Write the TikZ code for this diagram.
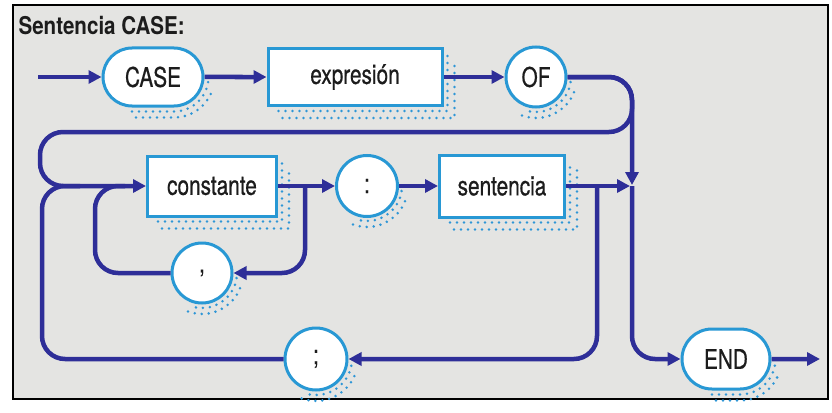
\documentclass[tikz,border=0pt]{standalone}
\usepackage{fontspec}
\newfontfamily\condfont{TeX Gyre Heros}[FakeStretch=0.77,FakeBold=0.6]
\newfontfamily\titlefont{TeX Gyre Heros}[FakeStretch=0.84]
\usetikzlibrary{arrows.meta,shapes.misc,calc}
\definecolor{bg}{RGB}{228,228,226}
\definecolor{connc}{RGB}{46,46,152}
\definecolor{nodeb}{RGB}{40,152,212}
\definecolor{dotc}{RGB}{46,150,214}
\definecolor{ink}{RGB}{28,28,28}
\newcommand\rshadow[1]{%
 \draw[dots] ($(#1.south west)+(12,-4)$) -- ($(#1.south east)+(4,-4)$) -- ($(#1.north east)+(4,-8)$);
 \draw[dots] ($(#1.south west)+(16,-11)$) -- ($(#1.south east)+(11,-11)$) -- ($(#1.north east)+(11,-12)$);}
\newcommand\cshadow[3]{%
 \draw[dots] ($(#1.center)+(-100:#2)$) arc[start angle=-100,end angle=0,radius=#2];
 \draw[dots] ($(#1.center)+(-110:#3)$) arc[start angle=-110,end angle=-15,radius=#3];}
\begin{document}
\begin{tikzpicture}[x=1pt,y=1pt,
 conn/.style={draw=connc, line width=4.5pt, rounded corners=23pt},
 arr/.style={-{Triangle[length=13pt,width=13pt]}},
 boxnode/.style={draw=nodeb, line width=3pt, fill=white, rectangle, inner sep=0pt,
   font=\condfont\fontsize{27}{31}\selectfont, text=ink},
 circnode/.style={boxnode, circle, minimum size=60pt},
 pillnode/.style={boxnode, rounded rectangle, minimum height=58pt},
 dots/.style={draw=dotc, line width=2.8pt, line cap=round, dash pattern=on 0pt off 7pt}]
\useasboundingbox (0,0) rectangle (832,-412);
\fill[white] (0,0) rectangle (832,-412);
\draw[line width=2pt, fill=bg] (13,-5) rectangle (828,-399);
\node[anchor=base west, font=\titlefont\bfseries\fontsize{24.5}{28}\selectfont, text=ink] (title) at (15,-35) {Sentencia CASE:};
% nodes
\node[pillnode, minimum width=100pt] (case) at (153,-77) {CASE};
\node[boxnode, minimum width=174pt, minimum height=57pt] (expr) at (355,-77) {expresión};
\node[circnode] (of) at (536,-77) {OF};
\node[boxnode, minimum width=129pt, minimum height=60pt] (const) at (212,-186) {constante};
\node[circnode, minimum size=61pt] (colon) at (367,-186) {:};
\node[boxnode, minimum width=125pt, minimum height=62pt] (sent) at (502,-186) {sentencia};
\node[circnode] (comma) at (202,-273) {,};
\node[circnode, minimum size=62pt] (semi) at (316,-359) {;};
\node[pillnode, minimum width=88pt, minimum height=60pt] (endn) at (726,-359) {END};
% shadows
\rshadow{expr}
\rshadow{const}
\rshadow{sent}
\cshadow{of}{35}{41}
\cshadow{colon}{35}{41}
\cshadow{comma}{35}{41}
\cshadow{semi}{36}{42}
\draw[dots] ($(case.south)+(-21,-4)$) -- ($(case.south)+(21,-4)$) arc[start angle=-90,end angle=-5,radius=34.5];
\draw[dots] ($(case.south)+(-17,-10)$) -- ($(case.south)+(21,-10)$) arc[start angle=-90,end angle=-20,radius=40.5];
\draw[dots] ($(endn.south)+(-14,-4)$) -- ($(endn.south)+(14,-4)$) arc[start angle=-90,end angle=0,radius=35.5];
\draw[dots] ($(endn.south)+(-10,-10)$) -- ($(endn.south)+(14,-10)$) arc[start angle=-90,end angle=-20,radius=41.5];
% connectors
\coordinate (start) at (38,-77);
\coordinate (jn) at (632,-186);
\coordinate (j1) at (305,-186);
\coordinate (j2) at (597,-186);
\coordinate (exit) at (820,-359);
\draw[conn,arr] (start) -- (case);
\draw[conn,arr] (case) -- (expr);
\draw[conn,arr] (expr) -- (of);
\draw[conn,arr,shorten >=1pt] (of.east) -| (jn);
\draw[conn,arr] (of.east) -- (632,-77) -- (632,-132) -- (40,-132) -- (40,-186) -- (const.west);
\draw[conn,arr] (const) -- (colon);
\draw[conn,arr] (colon) -- (sent);
\draw[conn,arr,shorten >=2pt] (sent) -- (jn);
\draw[conn,arr] (j1) |- (comma);
\draw[conn] (comma) -| (95,-186) -- (125,-186);
\draw[conn,arr] (j2) |- (semi);
\draw[conn] (semi) -| (42,-186) -- (80,-186);
\draw[conn,arr] (jn) |- (endn);
\draw[conn,arr] (endn) -- (exit);
\end{tikzpicture}
\end{document}
